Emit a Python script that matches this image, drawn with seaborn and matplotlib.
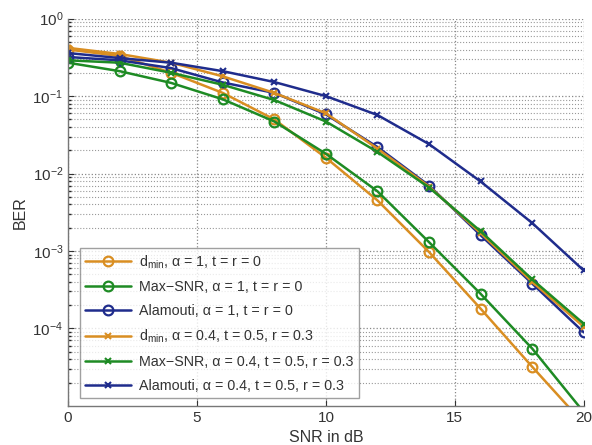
import numpy as np
import pandas as pd
import matplotlib
matplotlib.use("Agg")
import matplotlib.pyplot as plt
import seaborn as sns
from matplotlib.ticker import LogLocator, NullFormatter, FixedLocator

snr = [0, 2, 4, 6, 8, 10, 12, 14, 16, 18, 20]

ber_dmin_a1 = [0.40, 0.33, 0.20, 0.11, 0.050, 0.016, 0.0045, 9.7e-4, 1.8e-4, 3.2e-5, 5.9e-6]
ber_maxsnr_a1 = [0.27, 0.21, 0.148, 0.091, 0.047, 0.018, 0.0059, 0.0013, 2.8e-4, 5.5e-5, 8.3e-6]
ber_alam_a1 = [0.32, 0.29, 0.23, 0.15, 0.11, 0.058, 0.022, 0.0070, 0.0016, 3.8e-4, 8.9e-5]
ber_dmin_a04 = [0.42, 0.35, 0.27, 0.18, 0.11, 0.060, 0.021, 0.0068, 0.0017, 4.0e-4, 1.05e-4]
ber_maxsnr_a04 = [0.29, 0.27, 0.20, 0.14, 0.089, 0.047, 0.019, 0.0066, 0.0018, 4.3e-4, 1.15e-4]
ber_alam_a04 = [0.36, 0.31, 0.27, 0.21, 0.152, 0.10, 0.057, 0.024, 0.0079, 0.0023, 5.6e-4]

labels = [
    "d$_{\\mathregular{min}}$, α = 1, t = r = 0",
    "Max−SNR, α = 1, t = r = 0",
    "Alamouti, α = 1, t = r = 0",
    "d$_{\\mathregular{min}}$, α = 0.4, t = 0.5, r = 0.3",
    "Max−SNR, α = 0.4, t = 0.5, r = 0.3",
    "Alamouti, α = 0.4, t = 0.5, r = 0.3",
]
series = [ber_dmin_a1, ber_maxsnr_a1, ber_alam_a1, ber_dmin_a04, ber_maxsnr_a04, ber_alam_a04]

orange = "#D98E22"
green = "#1E8B24"
blue = "#1F2C8C"
colors = [orange, green, blue, orange, green, blue]
markers = ["o", "o", "o", "x", "x", "x"]

sns.set_theme(style="white")
plt.rcParams["font.family"] = ["Liberation Sans", "DejaVu Sans"]
plt.rcParams["mathtext.fontset"] = "custom"
plt.rcParams["mathtext.rm"] = "Liberation Sans"
plt.rcParams["mathtext.it"] = "Liberation Sans:italic"

fig = plt.figure(figsize=(5.92, 4.45), dpi=100)
ax = fig.add_axes([0.115, 0.088, 0.871, 0.870])

for lab, vals, c, m in zip(labels, series, colors, markers):
    df = pd.DataFrame({"SNR": snr, "BER": vals})
    if m == "o":
        sns.lineplot(data=df, x="SNR", y="BER", ax=ax, color=c, marker="o",
                     markersize=7, markerfacecolor="none", markeredgecolor=c,
                     markeredgewidth=1.6, linewidth=1.8, label=lab)
    else:
        sns.lineplot(data=df, x="SNR", y="BER", ax=ax, color=c, marker="x",
                     markersize=5, markeredgecolor=c, markeredgewidth=1.5,
                     linewidth=1.8, label=lab)

ax.set_yscale("log")
ax.set_xlim(0, 20)
ax.set_ylim(1e-5, 1)
ax.set_xticks([0, 5, 10, 15, 20])
ax.yaxis.set_major_locator(FixedLocator([1e-4, 1e-3, 1e-2, 1e-1, 1]))
ax.yaxis.set_minor_locator(LogLocator(base=10, subs=np.arange(2, 10), numticks=20))
ax.yaxis.set_minor_formatter(NullFormatter())

ax.grid(True, which="major", axis="both", linestyle=":", color="#888888", linewidth=0.9)
ax.grid(True, which="minor", axis="y", linestyle=":", color="#999999", linewidth=0.8)

for s in ["top", "right"]:
    ax.spines[s].set_visible(False)
for s in ["left", "bottom"]:
    ax.spines[s].set_color("#777777")
    ax.spines[s].set_linewidth(1.0)

ax.tick_params(axis="both", which="major", labelsize=11, colors="#333333",
               direction="in", length=4, width=0.8, left=True, bottom=True)
ax.tick_params(axis="y", which="minor", direction="in", length=2, left=True)

ax.set_xlabel("SNR in dB", fontsize=11.5, color="#333333", labelpad=4)
ax.set_ylabel("BER", fontsize=11.5, color="#333333", labelpad=3)

leg = ax.legend(loc="lower left", bbox_to_anchor=(0.023, 0.021), borderaxespad=0,
                fontsize=10.3, frameon=True, fancybox=False, edgecolor="#888888",
                handlelength=3.2, labelspacing=0.68, borderpad=0.35,
                handletextpad=0.6)
leg.get_frame().set_linewidth(1.0)
for t in leg.get_texts():
    t.set_color("#333333")

fig.savefig("out.png", dpi=100)
